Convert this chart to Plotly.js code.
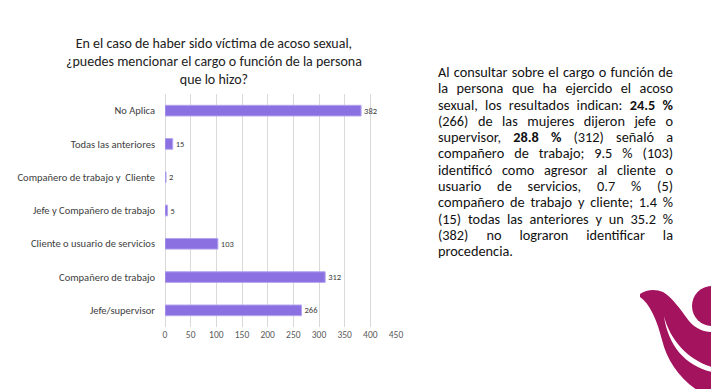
<!DOCTYPE html>
<html>
<head>
<meta charset="utf-8">
<script src="https://cdn.plot.ly/plotly-3.0.1.min.js"></script>
<style>
  html, body { margin: 0; padding: 0; background: #fff; }
  #wrap { position: relative; width: 711px; height: 389px; overflow: hidden; }
  #chart { position: absolute; left: 0; top: 0; width: 711px; height: 389px; }
  #para {
    position: absolute; left: 438px; top: 64px; width: 235px;
    font-family: Carlito, "Liberation Sans", sans-serif; font-size: 14.3px; line-height: 16.3px;
    color: #111; text-align: justify;
  }
  #logo { position: absolute; left: 0; top: 0; width: 711px; height: 389px; pointer-events: none; }
</style>
</head>
<body>
<div id="wrap">
  <div id="chart"></div>
  <div id="para">Al consultar sobre el cargo o función de la persona que ha ejercido el acoso sexual, los resultados indican: <b>24.5 %</b> (266) de las mujeres dijeron jefe o supervisor, <b>28.8 %</b> (312) señaló a compañero de trabajo; 9.5 % (103) identificó como agresor al cliente o usuario de servicios, 0.7 % (5) compañero de trabajo y cliente; 1.4 % (15) todas las anteriores y un 35.2 % (382) no lograron identificar la procedencia.</div>
  <svg id="logo" viewBox="0 0 711 389" xmlns="http://www.w3.org/2000/svg">
    <path fill="#A3135E" d="M640,294 C647,289 656,289 663,292 C672,297 680,309 689,321 C696,329 704,332 712,332 L712,390 L697,390 C679,378 667,360 662,340 C657,320 650,304 640,297 Z"/>
    <circle fill="#A3135E" cx="712" cy="306" r="20"/>
    <path fill="#ffffff" d="M664,316 C670,340 688,360 712,367 L712,372 C686,366 668,346 664,316 Z"/>
  </svg>
</div>
<script>
const categories = [
  "Jefe/supervisor",
  "Compañero de trabajo",
  "Cliente o usuario de servicios",
  "Jefe y Compañero de trabajo",
  "Compañero de trabajo y  Cliente",
  "Todas las anteriores",
  "No Aplica"
];
const values = [266, 312, 103, 5, 2, 15, 382];
const xTicks = [0, 50, 100, 150, 200, 250, 300, 350, 400, 450];
const chartTitle = "En el caso de haber sido víctima de acoso sexual,<br>¿puedes mencionar el cargo o función de la persona<br>que lo hizo?";

const W = 711, H = 389;
const M = {l: 165, r: 315, t: 94, b: 62};
const pw = W - M.l - M.r, ph = H - M.t - M.b;
const px = x => (x - M.l) / pw;
const py = y => (H - M.b - y) / ph;
const FONT = 'Carlito, "Liberation Sans", sans-serif';

const trace = {
  type: 'bar', orientation: 'h',
  y: categories, x: values,
  text: values.map(String), textposition: 'outside', cliponaxis: false,
  textfont: {family: FONT, size: 8.5, color: '#404040'},
  marker: {color: '#8A70E0', line: {color: '#B4A5EE', width: 1}},
  width: 0.32, hoverinfo: 'x+y'
};

const layout = {
  width: W, height: H,
  margin: M,
  paper_bgcolor: 'rgba(0,0,0,0)', plot_bgcolor: 'rgba(0,0,0,0)',
  showlegend: false,
  font: {family: FONT, color: '#404040'},
  xaxis: {
    range: [0, 450], tickvals: xTicks, ticktext: xTicks.map(String),
    showgrid: true, gridcolor: '#d9d9d9', gridwidth: 1,
    zeroline: true, zerolinecolor: '#d9d9d9', showline: false,
    tickfont: {size: 9.5, color: '#595959'}, ticks: '', fixedrange: true
  },
  yaxis: {
    type: 'category', categoryorder: 'array', categoryarray: categories,
    range: [-0.5, 6.5], showgrid: false, zeroline: false, showline: false,
    ticks: '', ticklabelstandoff: 9,
    tickfont: {size: 10.5, color: '#404040'}, fixedrange: true
  },
  annotations: [{
    text: chartTitle, xref: 'paper', yref: 'paper',
    x: px(214), y: py(61), xanchor: 'center', yanchor: 'middle', showarrow: false,
    align: 'center', font: {size: 14, color: '#222'}
  }]
};

Plotly.newPlot('chart', [trace], layout, {displayModeBar: false, staticPlot: true});
</script>
</body>
</html>
